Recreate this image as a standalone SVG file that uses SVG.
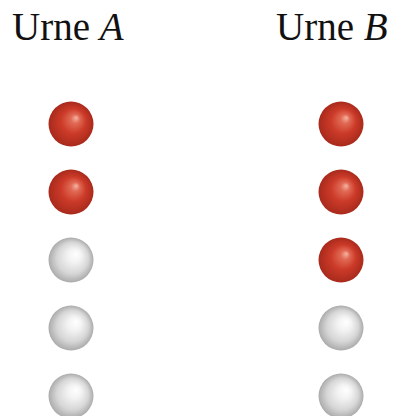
<svg xmlns="http://www.w3.org/2000/svg" width="393" height="416" viewBox="0 0 393 416">
<defs>
<radialGradient id="red" cx="0.5" cy="0.5" r="0.5" fx="0.62" fy="0.36">
<stop offset="0" stop-color="#f7b4a4"/>
<stop offset="0.2" stop-color="#e06a55"/>
<stop offset="0.55" stop-color="#cc3a28"/>
<stop offset="1" stop-color="#a82a1c"/>
</radialGradient>
<radialGradient id="gray" cx="0.5" cy="0.5" r="0.5" fx="0.62" fy="0.36">
<stop offset="0" stop-color="#ffffff"/>
<stop offset="0.3" stop-color="#f3f3f3"/>
<stop offset="0.7" stop-color="#d6d6d6"/>
<stop offset="1" stop-color="#ababab"/>
</radialGradient>
<style>
.lbl{font-family:"Liberation Serif",serif;font-size:39px;fill:#111}
.r{fill:url(#red)}
.g{fill:url(#gray)}
</style>
</defs>
<g id="labelA"><text class="lbl" x="12" y="40">Urne <tspan font-style="italic">A</tspan></text></g>
<g id="labelB"><text class="lbl" x="276" y="40">Urne <tspan font-style="italic">B</tspan></text></g>
<g id="urnA">
<circle class="r" cx="71" cy="124" r="22.5"/>
<circle class="r" cx="71" cy="192" r="22.5"/>
<circle class="g" cx="71" cy="260" r="22.5"/>
<circle class="g" cx="71" cy="328" r="22.5"/>
<circle class="g" cx="71" cy="396" r="22.5"/>
</g>
<g id="urnB">
<circle class="r" cx="341" cy="124" r="22.5"/>
<circle class="r" cx="341" cy="192" r="22.5"/>
<circle class="r" cx="341" cy="260" r="22.5"/>
<circle class="g" cx="341" cy="328" r="22.5"/>
<circle class="g" cx="341" cy="396" r="22.5"/>
</g>
</svg>
